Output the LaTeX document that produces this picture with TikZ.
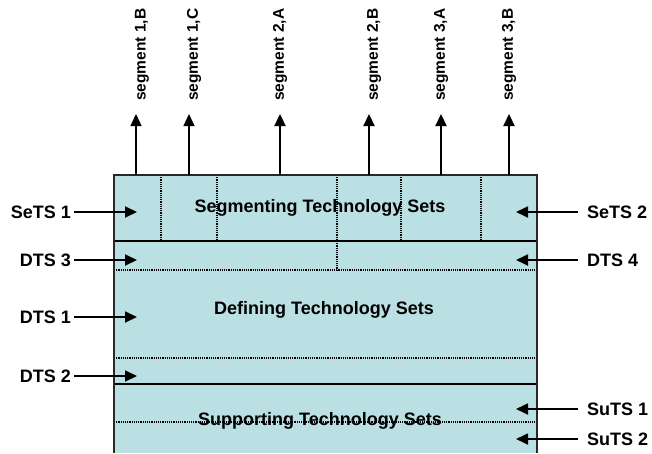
\documentclass[tikz,border=0pt]{standalone}
\usepackage{fontspec}
\setmainfont{Liberation Sans}
\usetikzlibrary{arrows.meta}
\definecolor{boxfill}{RGB}{187,224,227}
\definecolor{boxline}{RGB}{40,40,40}
\begin{document}
\begin{tikzpicture}[x=1pt,y=-1pt,
  lbl/.style={font=\bfseries\fontsize{18}{20}\selectfont, inner sep=0pt},
  seglbl/.style={font=\bfseries\fontsize{15.5}{17}\selectfont, inner sep=0pt, rotate=90, anchor=west},
  dotline/.style={line width=1.3pt, dash pattern=on 1.2pt off 1pt},
  sidearrow/.style={line width=1.8pt, -{Triangle[length=12pt,width=11pt]}},
  uparrow/.style={line width=2.2pt, -{Triangle[length=12pt,width=11pt]}},
  thinup/.style={line width=1.3pt, -{Triangle[length=12pt,width=11pt]}}]
\useasboundingbox (0,0) rectangle (652,453);
% main box
\fill[boxfill] (114,175) rectangle (537,453);
% internal separators
\draw[dotline] (161,175) -- (161,241);
\draw[dotline] (217,175) -- (217,241);
\draw[dotline] (337,175) -- (337,270);
\draw[dotline] (401,175) -- (401,241);
\draw[dotline] (481,175) -- (481,241);
\draw[dotline] (114,270) -- (537,270);
\draw[dotline] (114,358) -- (537,358);
\draw[dotline] (114,422) -- (537,422);
\draw[line width=2pt] (114,241) -- (537,241);
\draw[line width=2.6pt] (114,384) -- (537,384);
% section titles
\node[lbl] (segt) at (320,208) {Segmenting Technology Sets};
\node[lbl] (deft) at (324,310) {Defining Technology Sets};
\node[lbl] (supt) at (320,421) {Supporting Technology Sets};
% border
\draw[boxline, line width=1.5pt] (114,453) -- (114,175) -- (537,175) -- (537,453);
% segment labels and arrows
\foreach \n/\ax/\tx/\st/\t in {a/136/142/thinup/{segment 1,B}, b/189/194/thinup/{segment 1,C}, c/280/280/uparrow/{segment 2,A}, d/369/374/uparrow/{segment 2,B}, e/441/441/uparrow/{segment 3,A}, f/509/509/uparrow/{segment 3,B}}{
  \node[seglbl] (seg\n) at (\tx,101) {\t};
  \coordinate (base\n) at (\ax,175);
  \coordinate (tip\n) at (\ax,114);
  \draw[\st] (base\n) -- (tip\n);
}
% left labels
\foreach \n/\y/\t in {sets1/212/SeTS 1, dts3/260/DTS 3, dts1/317/DTS 1, dts2/376/DTS 2}{
  \node[lbl, anchor=east] (\n) at (71,\y) {\t};
  \coordinate (\n tip) at (137,\y);
  \draw[sidearrow] ([xshift=3pt]\n.east) -- (\n tip);
}
% right labels
\foreach \n/\y/\t in {sets2/212/SeTS 2, dts4/260/DTS 4, suts1/409/SuTS 1, suts2/439/SuTS 2}{
  \node[lbl, anchor=west] (\n) at (587,\y) {\t};
  \coordinate (\n tip) at (516,\y);
  \draw[sidearrow] ([xshift=-9pt]\n.west) -- (\n tip);
}
\end{tikzpicture}
\end{document}
